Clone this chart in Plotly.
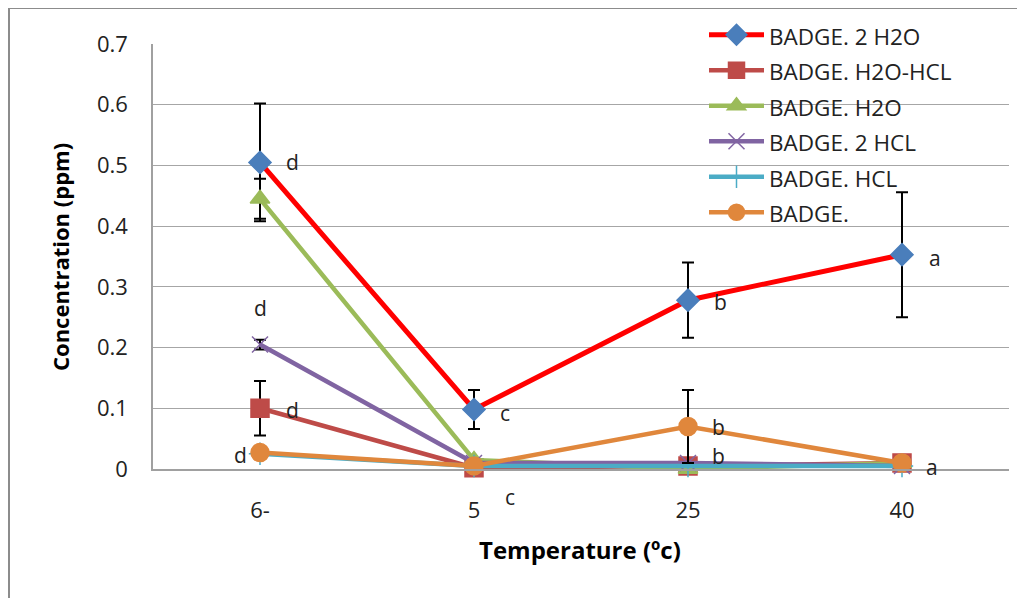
import plotly.graph_objects as go

categories = ["6-", "5", "25", "40"]

series_names = ["BADGE. 2 H2O", "BADGE. H2O-HCL", "BADGE. H2O",
                "BADGE. 2 HCL", "BADGE. HCL", "BADGE."]

v_2h2o = [0.505, 0.098, 0.278, 0.353]
e_2h2o = [0.097, 0.032, 0.062, 0.103]
v_h2o_hcl = [0.100, 0.002, 0.005, 0.010]
e_h2o_hcl = [0.045, 0, 0, 0]
v_h2o = [0.445, 0.015, 0.000, 0.010]
e_h2o = [0.033, 0, 0, 0]
v_2hcl = [0.205, 0.010, 0.010, 0.005]
e_2hcl = [0.008, 0, 0, 0]
v_hcl = [0.025, 0.005, 0.005, 0.005]
v_badge = [0.027, 0.005, 0.070, 0.010]
e_badge = [0, 0, 0.060, 0]

letters = ["d", "d", "d", "d", "c", "c", "b", "b", "b", "a", "a"]
letter_x = ["6-", "6-", "6-", "6-", "5", "5", "25", "25", "25", "40", "40"]
letter_y = [0.505, 0.265, 0.097, 0.023, 0.092, -0.046, 0.275, 0.070, 0.021, 0.348, 0.003]
letter_dx = [32, 0, 32, -20, 31, 36, 32, 30, 30, 33, 30]

line_colors = ["#FF0000", "#BE4B48", "#9BBB59", "#8064A2", "#4BACC6", "#E0873C"]
marker_colors = ["#4A7EBB", "#BE4B48", "#9BBB59", "#8064A2", "#4BACC6", "#E0873C"]
symbols = ["diamond", "square", "triangle-up", "x-thin", "cross-thin", "circle"]
sizes = [17, 18, 17, 16, 16, 18]

values = [v_2h2o, v_h2o_hcl, v_h2o, v_2hcl, v_hcl, v_badge]
errors = [e_2h2o, e_h2o_hcl, e_h2o, e_2hcl, None, e_badge]

Y_MAX = 0.7

# page offset (browser body margin) compensation: figure starts at (8, 8) on page
W, H = 1017, 590
PL, PT, PW, PH = 153, 44, 856, 425  # plot area in page pixels


def px(xp):
    return (xp - PL) / PW


def py(yp):
    return (PT + PH - yp) / PH


fig = go.Figure()
for i, name in enumerate(series_names):
    err = None
    if errors[i] is not None:
        err = dict(type="data", array=errors[i], visible=True,
                   color="black", thickness=2, width=6)
    fig.add_trace(go.Scatter(
        x=categories, y=values[i],
        name='<span style="font-size:22.5px">' + name + '</span>',
        mode="lines+markers",
        line=dict(color=line_colors[i], width=5 if i == 0 else 4.5),
        marker=dict(symbol=symbols[i], size=sizes[i], color=marker_colors[i],
                    line=dict(color=marker_colors[i], width=1.5)),
        error_y=err, cliponaxis=False,
    ))

for t, x, y, dx in zip(letters, letter_x, letter_y, letter_dx):
    fig.add_annotation(x=categories.index(x), y=y / Y_MAX, yref="paper", text=t,
                       showarrow=False, xshift=dx, xanchor="center", yanchor="middle",
                       font=dict(size=21, color="#222", family="Open Sans"))

# axis titles
fig.add_annotation(xref="paper", yref="paper", x=px(60), y=py(257),
                   xanchor="center", yanchor="middle",
                   text="<b>Concentration (ppm)</b>", textangle=-90, showarrow=False,
                   font=dict(size=22, color="black", family="Open Sans"))
fig.add_annotation(xref="paper", yref="paper", x=px(580), y=py(549),
                   xanchor="center", yanchor="middle",
                   text="<b>Temperature (ºc)</b>", showarrow=False,
                   font=dict(size=24, color="black", family="Open Sans"))

# outer chart frame (top and left edges)
fig.add_shape(type="line", xref="paper", yref="paper",
              x0=px(9), x1=px(1030), y0=py(8), y1=py(8),
              line=dict(color="#8C8C8C", width=2))
fig.add_shape(type="line", xref="paper", yref="paper",
              x0=px(9), x1=px(9), y0=py(8), y1=py(605),
              line=dict(color="#8C8C8C", width=2))

fig.update_layout(
    width=W, height=H,
    margin=dict(l=PL - 8, r=W - (PL - 8) - PW, t=PT - 8, b=H - (PT - 8) - PH,
                autoexpand=False),
    paper_bgcolor="white", plot_bgcolor="white",
    font=dict(family="Open Sans", size=22, color="#222"),
    showlegend=True,
    legend=dict(x=px(704), y=py(12), xanchor="left", yanchor="top",
                bgcolor="rgba(0,0,0,0)", font=dict(size=25, color="#222"),
                itemwidth=55, tracegroupgap=0),
    xaxis=dict(type="category", showgrid=False, showline=True, linecolor="#A0A0A0",
               linewidth=1.5, ticks="", ticklabelstandoff=21,
               tickfont=dict(size=22, color="#222"), range=[-0.5, 3.5]),
    yaxis=dict(range=[0, Y_MAX], showgrid=True, gridcolor="#A6A6A6",
               gridwidth=1.2, showline=True, linecolor="#A0A0A0", linewidth=1.5,
               ticks="", ticklabelstandoff=19, zeroline=False,
               tickvals=[0, 0.1, 0.2, 0.3, 0.4, 0.5, 0.6, 0.7],
               ticktext=["0", "0.1", "0.2", "0.3", "0.4", "0.5", "0.6", "0.7"],
               tickfont=dict(size=22, color="#222")),
)

fig.write_html("out.html")
